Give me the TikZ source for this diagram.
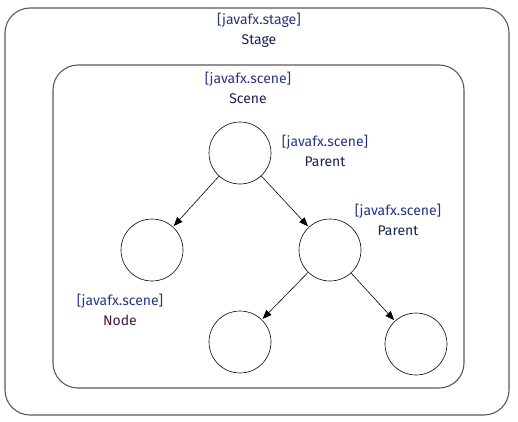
\documentclass[tikz,border=0pt]{standalone}
\usepackage{fontspec}
\setmainfont{Fira Sans}
\usetikzlibrary{arrows.meta}
\definecolor{pkgblue}{HTML}{25357E}
\definecolor{clsnavy}{HTML}{1A2250}
\definecolor{clsnode}{HTML}{45183A}
\begin{document}
\begin{tikzpicture}[x=1pt,y=-1pt,
  frame/.style={draw=black!65, line width=1.1pt, rounded corners=25pt},
  obj/.style={draw, circle, minimum size=62pt, inner sep=0pt, line width=0.6pt},
  lbl/.style={align=center, font=\fontsize{14}{20}\selectfont, inner sep=0pt},
  link/.style={-{Triangle[length=9pt,width=7pt]}, line width=0.6pt, shorten >=1pt}]
\useasboundingbox (0,0) rectangle (518,421);
\draw[frame] (5,8) rectangle (509,415);
\draw[frame] (53,65) rectangle (464,388);
\node[lbl] (stagelbl) at (259,30) {\textcolor{pkgblue}{[javafx.stage]}\\\textcolor{clsnavy}{Stage}};
\node[lbl] (scenelbl) at (248,88) {\textcolor{pkgblue}{[javafx.scene]}\\\textcolor{clsnavy}{Scene}};
\node[obj] (root) at (240,153) {};
\node[obj] (leaf) at (152,250) {};
\node[obj] (par) at (330,250) {};
\node[obj] (bl) at (240,342) {};
\node[obj] (br) at (416,344) {};
\node[lbl] (rootlbl) at (325,151) {\textcolor{pkgblue}{[javafx.scene]}\\\textcolor{clsnavy}{Parent}};
\node[lbl] (parlbl) at (398,220) {\textcolor{pkgblue}{[javafx.scene]}\\\textcolor{clsnavy}{Parent}};
\node[lbl] (leaflbl) at (120,310) {\textcolor{pkgblue}{[javafx.scene]}\\\textcolor{clsnode}{Node}};
\draw[link] (root) -- (leaf);
\draw[link] (root) -- (par);
\draw[link] (par) -- (bl);
\draw[link] (par) -- (br);
\end{tikzpicture}
\end{document}
